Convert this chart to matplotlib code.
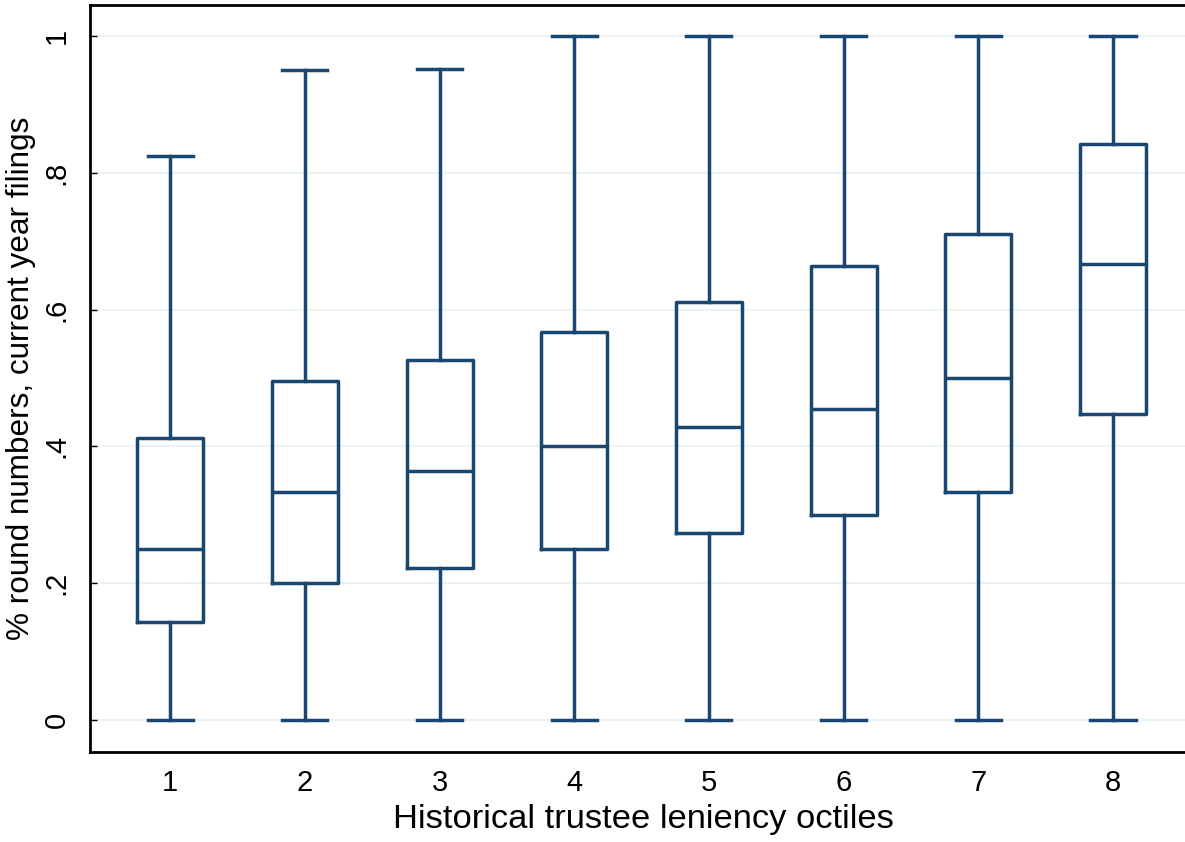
import matplotlib
matplotlib.use("Agg")
import matplotlib.pyplot as plt

# box plot summary per leniency octile
octiles = [1, 2, 3, 4, 5, 6, 7, 8]
whisker_low = [0, 0, 0, 0, 0, 0, 0, 0]
q1 = [0.143, 0.200, 0.222, 0.250, 0.273, 0.300, 0.333, 0.447]
median = [0.250, 0.333, 0.364, 0.400, 0.429, 0.455, 0.500, 0.667]
q3 = [0.412, 0.496, 0.526, 0.567, 0.611, 0.663, 0.711, 0.842]
whisker_high = [0.825, 0.950, 0.952, 1.0, 1.0, 1.0, 1.0, 1.0]

navy = "#1a476f"
plt.rcParams["font.family"] = ["Liberation Sans", "DejaVu Sans"]

stats = []
for i in range(len(octiles)):
    stats.append({
        "med": median[i], "q1": q1[i], "q3": q3[i],
        "whislo": whisker_low[i], "whishi": whisker_high[i],
        "fliers": [],
    })

fig = plt.figure(figsize=(11.85, 8.42), dpi=100)
ax = fig.add_axes([90 / 1185, 1 - 752 / 842, 1 - 90 / 1185 + 0.01, (752 - 5) / 842])

lw = 2.5
ax.bxp(stats, positions=octiles, widths=0.49, showfliers=False,
       boxprops=dict(color=navy, linewidth=lw),
       medianprops=dict(color=navy, linewidth=lw),
       whiskerprops=dict(color=navy, linewidth=lw),
       capprops=dict(color=navy, linewidth=lw),
       capwidths=0.335, zorder=3)

ax.set_xlim(0.4055, 8.542 + 0.08)
ax.set_ylim(-0.0468, 1.0453)
ax.set_xticks(octiles)
ax.set_xticklabels([str(o) for o in octiles])
ax.set_yticks([0, 0.2, 0.4, 0.6, 0.8, 1])
ax.set_yticklabels(["0", ".2", ".4", ".6", ".8", "1"], rotation=90, va="center")
ax.grid(axis="y", color="#eaf2f3", linewidth=1.5, zorder=0)
ax.tick_params(axis="x", length=0, labelsize=21, pad=12)
ax.tick_params(axis="y", direction="in", length=5, width=1, labelsize=21, pad=14)
for side in ["left", "bottom", "top"]:
    ax.spines[side].set_linewidth(2)
ax.spines["right"].set_visible(False)

ax.set_xlabel("Historical trustee leniency octiles", fontsize=24.8, labelpad=5)
ax.set_ylabel("% round numbers, current year filings", fontsize=22.7, labelpad=5)

fig.savefig("out.png", dpi=100)
